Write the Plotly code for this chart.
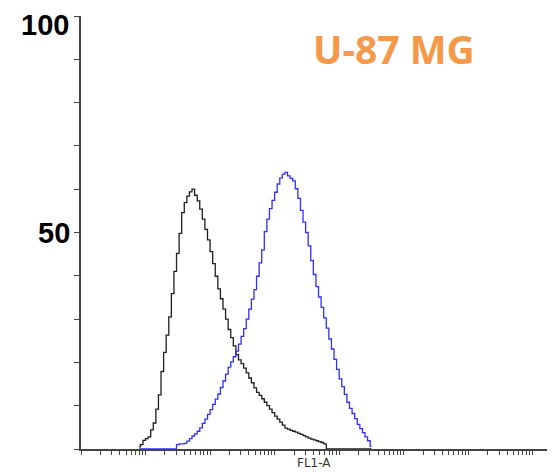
import numpy as np
import plotly.graph_objects as go

# FL1-A histogram channels: log10 bin centres start at 0.90, step 0.04 decades
FL1_LOG_FIRST_BIN = 0.90
FL1_LOG_BIN_WIDTH = 0.04

# Isotype control (black) counts per channel
isotype_counts = [
    0.5, 1.0, 2.0, 2.4, 2.8, 4.4, 6.0, 9.2, 12.5, 17.9,
    22.3, 26.3, 30.5, 35.9, 41.0, 45.2, 49.8, 54.6, 56.9, 58.4,
    59.4, 60.0, 58.6, 57.3, 55.4, 53.1, 50.7, 48.3, 45.6, 42.8,
    39.9, 37.0, 34.7, 32.3, 30.0, 27.6, 25.7, 23.8, 21.8, 20.6,
    19.7, 18.7, 17.6, 16.4, 15.3, 14.1, 13.1, 12.4, 11.6, 10.8,
    10.0, 9.2, 8.4, 7.6, 6.9, 6.2, 5.5, 4.8, 4.6, 4.3,
    4.1, 3.9, 3.6, 3.4, 3.1, 2.8, 2.5, 2.3, 2.1, 1.9,
    1.7, 1.5, 1.2,
    0, 0, 0, 0, 0, 0, 0, 0, 0, 0, 0, 0, 0, 0, 0, 0, 0, 0,
]

# Stained U-87 MG cells (blue) counts per channel
u87_counts = [
    0, 0, 0, 0, 0, 0, 0, 0, 0, 0, 0, 0, 0, 0, 0,
    1.0, 1.2, 1.2, 1.3, 1.8, 2.4, 3.0, 3.5, 4.1, 4.9,
    5.9, 6.9, 8.0, 9.1, 10.3, 11.5, 12.7, 14.2, 15.7, 17.3,
    18.9, 20.1, 21.3, 22.6, 24.2, 26.0, 27.8, 30.0, 32.3, 34.6,
    36.8, 39.9, 43.0, 46.0, 50.2, 53.1, 55.5, 57.4, 59.3, 61.2,
    62.6, 63.5, 63.9, 63.1, 62.5, 61.9, 60.1, 57.9, 55.1, 52.4,
    50.0, 46.9, 43.5, 40.3, 37.5, 35.1, 32.7, 30.3, 27.9, 25.4,
    23.1, 20.7, 18.4, 16.2, 14.4, 12.6, 10.8, 9.4, 8.2, 7.0,
    5.7, 4.7, 3.8, 2.8, 1.9, 0.6,
]

Y_LABELS = {"100": 97.9, "50": 50}
TITLE = "U-87 MG"
X_TITLE = "FL1-A"

n_bins = len(isotype_counts)
fl1 = 10 ** (FL1_LOG_FIRST_BIN + FL1_LOG_BIN_WIDTH * np.arange(n_bins))

fig = go.Figure()
fig.add_trace(go.Scatter(
    x=fl1, y=isotype_counts, mode="lines", line_shape="hvh",
    line=dict(color="#1e1e1e", width=1.3), showlegend=False,
))
fig.add_trace(go.Scatter(
    x=fl1, y=u87_counts, mode="lines", line_shape="hvh",
    line=dict(color="#2f2fff", width=1.3), showlegend=False,
))

# decade ticks plus 2..9 sub-ticks, up to the 10^7.22 instrument limit
x_ticks = [m * 10 ** k for k in range(7) for m in range(1, 10)] + [1e7]

fig.update_xaxes(
    type="log", range=[0, 7.22],
    showline=True, linecolor="#444", linewidth=1.5,
    ticks="outside", ticklen=4, tickwidth=1, tickcolor="#444",
    tickvals=x_ticks, showticklabels=False,
    showgrid=False, zeroline=False,
)
fig.update_yaxes(
    range=[0, 100],
    showline=True, linecolor="#444", linewidth=1.5,
    ticks="outside", ticklen=5, tickwidth=1, tickcolor="#444",
    tickvals=list(range(0, 101, 10)), showticklabels=False,
    showgrid=False, zeroline=False,
)

annotations = []
for text, yv in Y_LABELS.items():
    annotations.append(dict(
        text=f"<b>{text}</b>", xref="paper", yref="y",
        x=-0.022 if text == "100" else -0.019, y=yv,
        xanchor="right", yanchor="middle", showarrow=False,
        font=dict(family="Liberation Sans, Arial, sans-serif", size=29, color="#000"),
    ))
annotations.append(dict(
    text=f"<b>{TITLE}</b>", xref="paper", yref="paper",
    x=0.672, y=0.925, xanchor="center", yanchor="middle", showarrow=False,
    font=dict(family="Noto Sans, Open Sans, sans-serif", size=39, color="#F59848"),
))
annotations.append(dict(
    text=X_TITLE, xref="paper", yref="paper",
    x=0.500, y=-0.032, xanchor="center", yanchor="middle", showarrow=False,
    font=dict(family="DejaVu Sans, Verdana, sans-serif", size=12, color="#333"),
))

fig.update_layout(
    width=560, height=472,
    margin=dict(l=81, r=13, t=16, b=23),
    paper_bgcolor="white", plot_bgcolor="white",
    annotations=annotations,
)

fig.write_html("out.html")
